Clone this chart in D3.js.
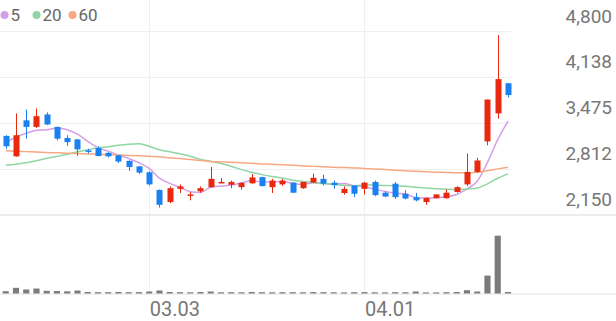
<!DOCTYPE html>
<html>
<head>
<meta charset="utf-8">
<script src="https://cdn.jsdelivr.net/npm/d3@7"></script>
<style>
  html, body { margin: 0; padding: 0; background: #fff; }
  svg { display: block; font-family: Roboto, sans-serif; }
</style>
</head>
<body>
<div id="chart"></div>
<script>
// trading days
const dates = [
  '02.08','02.09','02.10','02.15','02.16','02.17','02.18','02.19','02.22','02.23',
  '02.24','02.25','02.26','03.02','03.03','03.04','03.05','03.08','03.09','03.10',
  '03.11','03.12','03.15','03.16','03.17','03.18','03.19','03.22','03.23','03.24',
  '03.25','03.26','03.29','03.30','03.31','04.01','04.02','04.05','04.06','04.07',
  '04.08','04.09','04.12','04.13','04.14','04.15','04.16','04.19','04.20','04.21'
];
const open  = [3285,2990,3510,3415,3595,3415,3255,3235,3075,3110,3040,3005,2925,2845,2760,2505,2330,2520,2420,2485,
               2545,2600,2580,2545,2600,2690,2545,2585,2610,2530,2610,2665,2610,2460,2570,2520,2620,2465,2595,2450,
               2400,2330,2385,2385,2475,2585,2765,3205,3610,4045];
const high  = [3295,3610,3665,3680,3625,3420,3295,3240,3100,3135,3050,3010,2930,2850,2775,2510,2555,2585,2475,2555,
               2835,2675,2640,2615,2735,2695,2665,2665,2615,2620,2740,2725,2640,2555,2575,2620,2640,2485,2620,2500,
               2460,2395,2440,2510,2560,3030,2970,3810,4740,4050];
const low   = [3100,2985,3245,3400,3440,3220,3140,2995,3030,2990,2975,2895,2780,2735,2570,2250,2315,2460,2355,2465,
               2540,2600,2530,2510,2595,2555,2460,2565,2460,2520,2605,2570,2520,2435,2400,2440,2415,2400,2375,2370,
               2340,2290,2385,2380,2465,2560,2750,3150,3535,3840];
const close = [3135,3295,3415,3570,3450,3245,3195,3090,3055,2995,2990,2915,2835,2755,2585,2290,2530,2555,2440,2530,
               2665,2620,2620,2605,2685,2560,2640,2640,2465,2620,2680,2595,2575,2520,2450,2610,2430,2410,2400,2380,
               2355,2390,2440,2465,2545,2765,2930,3810,4105,3875];
const volume = [230,570,400,500,270,250,220,300,150,130,130,150,130,140,200,300,150,130,120,150,
                200,120,130,120,150,130,120,130,130,120,140,130,120,110,130,140,120,110,130,120,
                200,110,110,130,150,330,200,1800,5800,150];

// moving averages as drawn
const ma5  = [3193,3265,3323,3366,3373,3395,3375,3310,3207,3116,3065,3009,2958,2898,2816,2676,2599,2543,2480,2469,
              2544,2562,2575,2608,2639,2618,2622,2626,2598,2585,2609,2600,2587,2598,2564,2550,2517,2484,2460,2446,
              2395,2387,2393,2406,2439,2521,2629,2903,3231,3497];
const ma20 = [2860,2874,2896,2925,2961,2990,3019,3055,3084,3113,3128,3149,3164,3171,3135,3084,3055,3026,2990,2944,
              2920,2886,2847,2798,2760,2726,2698,2676,2646,2627,2612,2596,2583,2571,2564,2580,2575,2568,2566,2559,
              2543,2532,2523,2516,2509,2519,2533,2592,2674,2737];
const ma60 = [3070,3064,3058,3052,3046,3041,3035,3030,3025,3019,3014,3009,3003,2997,2990,2983,2970,2957,2944,2930,
              2917,2910,2903,2896,2888,2881,2874,2867,2860,2852,2845,2839,2833,2828,2822,2816,2807,2799,2790,2781,
              2773,2767,2761,2757,2752,2751,2761,2783,2809,2833];

const priceTicks = [4800, 4138, 3475, 2812, 2150];
const dateTicks = ['03.03', '04.01'];
const maNames = ['5', '20', '60'];

const width = 616, height = 321;
const colors = { up: '#e8290f', down: '#1b80f0', ma: ['#d59ee9', '#8fd6a2', '#f9a882'] };

const svg = d3.select('#chart').append('svg')
  .attr('width', width)
  .attr('height', height);

/* ----------scales------------*/
const x = d3.scaleBand().domain(dates).range([0.6, 513.1]).paddingInner(0.4).paddingOuter(0.2);
const cx = d => x(d) + x.bandwidth() / 2;
const y = d3.scaleLinear().domain([2150, 4800]).range([214.5, 31]);
const yv = d3.scaleLinear().domain([0, d3.max(volume)]).range([293.5, 235.7]);

/* ----------grid------------*/
svg.append('g').selectAll('line').data(dateTicks).enter().append('line')
  .attr('x1', d => Math.round(cx(d)) + 0.5).attr('x2', d => Math.round(cx(d)) + 0.5)
  .attr('y1', 0).attr('y2', 293.5)
  .attr('stroke', '#efefef');

svg.append('g').selectAll('line').data(priceTicks.slice(0, -1)).enter().append('line')
  .attr('x1', 0).attr('x2', 511)
  .attr('y1', d => Math.round(y(d)) + 0.5).attr('y2', d => Math.round(y(d)) + 0.5)
  .attr('stroke', '#f0f0f0');

// panel separator
svg.append('line')
  .attr('x1', 0).attr('x2', width)
  .attr('y1', y(2150) + 0.5).attr('y2', y(2150) + 0.5)
  .attr('stroke', '#ececec').attr('stroke-width', 2);

svg.append('line')
  .attr('x1', 0).attr('x2', width)
  .attr('y1', 294).attr('y2', 294)
  .attr('stroke', '#e4e4e4');

/* ----------axis labels------------*/
svg.append('g').selectAll('text').data(priceTicks).enter().append('text')
  .attr('x', 612)
  .attr('y', d => y(d) - 8.5)
  .attr('text-anchor', 'end')
  .attr('fill', '#777')
  .style('font-size', '19px')
  .text(d => d3.format(',')(d));

svg.append('g').selectAll('text').data(dateTicks).enter().append('text')
  .attr('x', d => cx(d) + 0.5)
  .attr('y', 316)
  .attr('fill', '#777')
  .style('font-size', '20px')
  .text(d => d);

/* ----------volume------------*/
svg.append('g').selectAll('rect').data(volume).enter().append('rect')
  .attr('x', (d, i) => x(dates[i]))
  .attr('width', x.bandwidth())
  .attr('y', d => yv(d))
  .attr('height', d => 293.5 - yv(d))
  .attr('fill', '#7b7b7b');

/* ----------moving averages------------*/
const line = d3.line().x((d, i) => cx(dates[i])).y(d => y(d)).curve(d3.curveMonotoneX);
[ma5, ma20, ma60].forEach((s, k) => {
  svg.append('path')
    .attr('d', line(s))
    .attr('fill', 'none')
    .attr('stroke', colors.ma[k])
    .attr('stroke-width', 1.5);
});

/* ----------candles------------*/
const candle = svg.append('g').selectAll('g').data(dates).enter().append('g');
const col = i => close[i] >= open[i] ? colors.up : colors.down;

candle.append('line')
  .attr('x1', d => Math.round(cx(d)) + 0.5).attr('x2', d => Math.round(cx(d)) + 0.5)
  .attr('y1', (d, i) => y(high[i])).attr('y2', (d, i) => y(low[i]))
  .attr('stroke', (d, i) => col(i));

candle.append('rect')
  .attr('x', d => Math.round(cx(d)) + 0.5 - 3)
  .attr('width', 6)
  .attr('y', (d, i) => y(Math.max(open[i], close[i])))
  .attr('height', (d, i) => Math.max(1.5, Math.abs(y(open[i]) - y(close[i]))))
  .attr('fill', (d, i) => col(i));

/* ----------legend------------*/
const legend = svg.append('g').selectAll('g').data(maNames).enter().append('g')
  .attr('transform', (d, i) => 'translate(' + [4.5, 36.5, 72.5][i] + ',15)');
legend.append('circle').attr('r', 4).attr('fill', (d, i) => colors.ma[i]);
legend.append('text')
  .attr('x', 6).attr('y', 6)
  .attr('fill', '#666')
  .style('font-size', '17px')
  .text(d => d);
</script>
</body>
</html>
